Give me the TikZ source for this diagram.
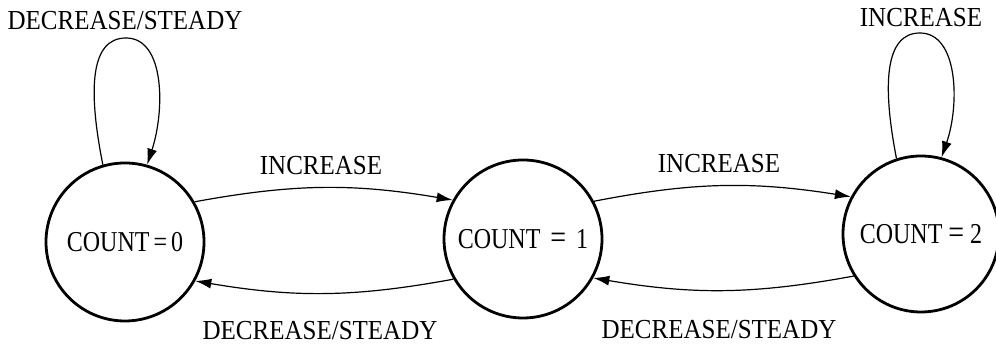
\documentclass[tikz,border=0pt]{standalone}
\usepackage{fontspec}
\setmainfont{Liberation Serif}
\usetikzlibrary{arrows.meta}
\newcommand{\tallA}[1]{\scalebox{1}[1.1]{#1}}
\newcommand{\tallB}[1]{\scalebox{1}[1.2]{#1}}
\begin{document}
\begin{tikzpicture}[x=1pt,y=1pt,
  state/.style={circle,draw,line width=2.8pt,minimum size=158pt,inner sep=0pt,font=\fontsize{24}{24}\selectfont},
  edge/.style={line width=1.2pt,-{Latex[length=16pt,width=10pt]}},
  lbl/.style={font=\fontsize{25}{25}\selectfont,inner sep=0pt}]
\useasboundingbox (0,0) rectangle (996,344);
\node[state] (c0) at (125,102) {\tallB{COUNT\,=\,0}};
\node[state] (c1) at (523,105) {\tallB{COUNT\ \,{\fontsize{28}{28}\selectfont =}\ \,1}};
\node[state,minimum size=156pt] (c2) at (921,110) {\tallB{COUNT\ {\fontsize{28}{28}\selectfont =}\ 2}};
\coordinate (top0) at (126,306);
\coordinate (top2) at (920,311);
\draw[line width=1.2pt] (c0.106) .. controls (88,254) and (90,306) .. (top0);
\draw[edge] (top0) .. controls (165,306) and (165,234) .. (c0.74);
\draw[line width=1.2pt] (c2.108) .. controls (882,260) and (885,311) .. (top2);
\draw[edge] (top2) .. controls (958,311) and (960,240) .. (c2.75);
\draw[edge] (c0.30) to[bend left=10] (c1.151);
\draw[edge] (c1.210) to[bend left=10] (c0.331);
\draw[edge] (c1.28) to[bend left=10] (c2.152);
\draw[edge] (c2.212) to[bend left=10] (c1.331);
\node[lbl] (l0) at (125,323) {\tallA{DECREASE/STEADY}};
\node[lbl] (l2) at (921,326) {\tallA{INCREASE}};
\node[lbl] (l01) at (321,178) {\tallA{INCREASE}};
\node[lbl] (l12) at (719,180) {\tallA{INCREASE}};
\node[lbl] (l10) at (320,13) {\tallA{DECREASE/STEADY}};
\node[lbl] (l21) at (719,14) {\tallA{DECREASE/STEADY}};
\end{tikzpicture}
\end{document}
